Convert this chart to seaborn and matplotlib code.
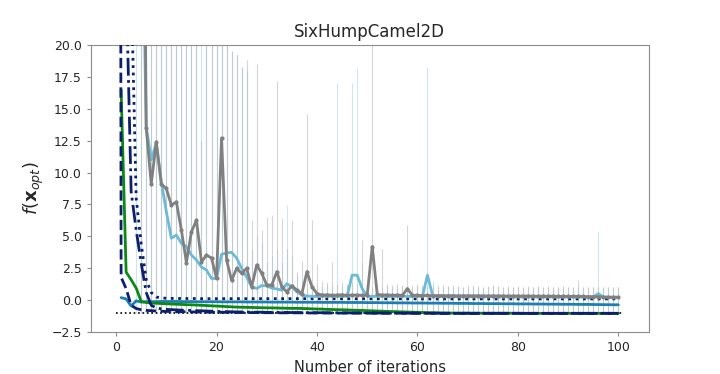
import numpy as np
import pandas as pd
import matplotlib
matplotlib.use("Agg")
import matplotlib.pyplot as plt
import seaborn as sns

nan = np.nan
iters = list(range(1, 101))
f_opt = -1.0316  # global minimum of six-hump camel

# mean curves (one value per iteration 1..100)
gray_mean = [nan, nan, nan, nan, 60.0, 13.5, 9.1, 12.4, 9.1, 8.75,
             7.45, 7.7, 5.5, 2.95, 5.35, 6.27, 3.0, 3.54, 3.3, 1.7,
             12.7, 3.15, 1.55, 2.5, 2.1, 2.5, 1.05, 2.76, 2.1, 1.18,
             1.2, 2.23, 1.05, 0.65, 1.13, 0.79, 0.52, 2.23, 1.05, 0.52,
             0.4, 0.42, 0.38, 0.4, 0.42, 0.38, 0.4, 0.4, 0.38, 0.4,
             4.2, 0.45, 0.4, 0.42, 0.38, 0.4, 0.38, 0.9, 0.38, 0.38,
             0.36, 0.37, 0.35, 0.36, 0.36, 0.35, 0.36, 0.34, 0.35, 0.35,
             0.34, 0.35, 0.34, 0.33, 0.34, 0.33, 0.34, 0.32, 0.33, 0.33,
             0.32, 0.33, 0.32, 0.31, 0.32, 0.31, 0.32, 0.3, 0.31, 0.3,
             0.3, 0.31, 0.29, 0.28, 0.28, 0.27, 0.24, 0.23, 0.23, 0.22]
gray_max = [nan, nan, nan, nan, 60.0, 45.0, 40.0, 38.0, 35.0, 30.0,
            28.0, 30.0, 25.0, 24.0, 26.0, 22.0, 12.5, 24.0, 21.0, 22.0,
            26.0, 21.0, 19.5, 19.2, 18.3, 18.8, 6.3, 18.5, 5.5, 6.5,
            6.7, 17.2, 6.4, 4.0, 6.3, 2.2, 3.1, 14.6, 6.3, 2.8,
            1.5, 1.4, 3.0, 1.3, 1.4, 1.3, 1.4, 1.3, 4.7, 1.3,
            20.5, 1.3, 4.0, 1.3, 1.2, 1.3, 1.2, 5.9, 1.2, 1.3,
            1.2, 1.1, 1.2, 1.1, 1.2, 1.1, 1.2, 1.1, 1.0, 1.1,
            1.2, 1.1, 1.0, 1.1, 1.2, 1.1, 1.0, 1.1, 1.0, 1.1,
            1.0, 1.1, 1.0, 1.1, 1.0, 1.1, 1.0, 1.0, 1.1, 1.0,
            1.0, 1.57, 1.0, 1.0, 1.0, 1.0, 1.0, 1.0, 1.0, 1.0]

blue_mean = [nan, nan, nan, 60.0, 35.0, 13.6, 11.0, 12.3, 9.3, 6.95,
             4.86, 5.1, 4.46, 4.2, 3.54, 3.15, 2.6, 2.36, 1.7, 1.7,
             3.6, 3.7, 3.75, 3.3, 2.5, 1.8, 1.05, 0.92, 1.15, 1.12,
             0.95, 0.88, 0.78, 1.3, 1.04, 0.65, 0.4, 0.33, 0.3, 0.3,
             0.32, 0.3, 0.31, 0.3, 0.3, 0.31, 1.96, 1.96, 0.9, 0.3,
             0.3, 0.3, 0.31, 0.29, 0.3, 0.3, 0.31, 0.3, 0.29, 0.3,
             0.3, 1.96, 0.4, 0.28, 0.28, 0.27, 0.28, 0.27, 0.27, 0.28,
             0.27, 0.27, 0.26, 0.27, 0.27, 0.26, 0.26, 0.27, 0.26, 0.26,
             0.25, 0.26, 0.26, 0.25, 0.25, 0.26, 0.25, 0.25, 0.24, 0.25,
             0.25, 0.24, 0.24, 0.25, 0.24, 0.52, 0.25, 0.24, 0.24, 0.23]
blue_max = [nan, nan, nan, 60.0, 50.0, 40.0, 35.0, 33.0, 30.0, 28.0,
            26.0, 25.0, 24.0, 23.0, 22.0, 22.0, 21.0, 21.0, 20.5, 20.5,
            21.0, 20.5, 19.5, 19.3, 18.3, 18.0, 4.0, 5.0, 4.5, 3.0,
            3.5, 4.0, 3.0, 7.45, 3.5, 2.0, 1.5, 1.3, 1.2, 1.3,
            1.1, 1.2, 1.1, 17.0, 1.1, 1.2, 17.0, 18.2, 3.0, 1.1,
            1.0, 1.1, 1.0, 1.1, 1.0, 1.0, 1.1, 1.0, 1.0, 1.1,
            1.0, 18.3, 1.5, 1.0, 1.0, 1.1, 1.0, 1.0, 1.0, 1.1,
            1.0, 1.0, 1.0, 1.0, 1.1, 1.0, 1.0, 1.0, 1.0, 1.0,
            1.0, 1.0, 1.0, 1.0, 1.0, 1.0, 1.0, 1.0, 1.0, 1.0,
            1.0, 1.0, 1.0, 1.0, 1.0, 5.35, 1.0, 1.0, 1.0, 1.0]

teal_mean = [0.2, 0.1, -0.45, -0.05, -0.15, -0.12, -0.12, -0.11, -0.1, -0.1,
             -0.1, -0.1, -0.11, -0.11, -0.11, -0.12, -0.12, -0.12, -0.12, -0.12,
             -0.13, -0.13, -0.13, -0.13, -0.13, -0.14, -0.14, -0.14, -0.14, -0.14,
             -0.15, -0.15, -0.15, -0.15, -0.15, -0.16, -0.16, -0.16, -0.16, -0.16,
             -0.17, -0.17, -0.17, -0.17, -0.17, -0.18, -0.18, -0.18, -0.18, -0.19,
             -0.19, -0.19, -0.2, -0.2, -0.2, -0.21, -0.21, -0.21, -0.22, -0.22,
             -0.22, -0.23, -0.23, -0.23, -0.24, -0.24, -0.24, -0.25, -0.25, -0.25,
             -0.26, -0.26, -0.26, -0.27, -0.27, -0.27, -0.28, -0.28, -0.28, -0.29,
             -0.29, -0.29, -0.3, -0.3, -0.3, -0.31, -0.31, -0.31, -0.32, -0.32,
             -0.32, -0.33, -0.33, -0.33, -0.34, -0.34, -0.35, -0.35, -0.36, -0.36]

green_mean = [16.5, 2.2, 1.6, 0.95, -0.1, -0.18, -0.22, -0.24, -0.26, -0.28,
              -0.3, -0.32, -0.33, -0.35, -0.36, -0.38, -0.4, -0.42, -0.44, -0.46,
              -0.48, -0.5, -0.52, -0.54, -0.55, -0.56, -0.57, -0.58, -0.59, -0.6,
              -0.6, -0.61, -0.62, -0.63, -0.64, -0.64, -0.65, -0.66, -0.68, -0.69,
              -0.7, -0.72, -0.73, -0.74, -0.75, -0.76, -0.78, -0.79, -0.8, -0.82,
              -0.83, -0.85, -0.86, -0.88, -0.89, -0.9, -0.92, -0.93, -0.94, -0.95,
              -0.96, -0.97, -0.98, -0.99, -1.0, -1.0, -1.01, -1.01, -1.01, -1.01,
              -1.02, -1.02, -1.02, -1.02, -1.02, -1.02, -1.02, -1.02, -1.02, -1.02,
              -1.03, -1.03, -1.03, -1.03, -1.03, -1.03, -1.03, -1.03, -1.03, -1.03,
              -1.03, -1.03, -1.03, -1.03, -1.03, -1.03, -1.03, -1.03, -1.03, -1.03]

# three navy runs (iteration 0 holds the initial design value)
navy_iters = list(range(0, 101))
navy_dash = [300.0, 1.8, 0.9, -0.4, -0.65, -0.75, -0.8, -0.82, -0.85, -0.87,
             -0.88, -0.89, -0.9, -0.9, -0.91, -0.92, -0.92, -0.93, -0.93, -0.94,
             -0.95, -0.95, -0.95, -0.96, -0.96, -0.96, -0.97, -0.97, -0.97, -0.98,
             -0.98, -0.98, -0.98, -0.99, -0.99, -0.99, -0.99, -0.99, -1.0, -1.0,
             -1.0, -1.0, -1.0, -1.0, -1.01, -1.01, -1.01, -1.01, -1.01, -1.01,
             -1.02, -1.02, -1.02, -1.02, -1.02, -1.02, -1.02, -1.02, -1.02, -1.02,
             -1.03, -1.03, -1.03, -1.03, -1.03, -1.03, -1.03, -1.03, -1.03, -1.03,
             -1.03, -1.03, -1.03, -1.03, -1.03, -1.03, -1.03, -1.03, -1.03, -1.03,
             -1.03, -1.03, -1.03, -1.03, -1.03, -1.03, -1.03, -1.03, -1.03, -1.03,
             -1.03, -1.03, -1.03, -1.03, -1.03, -1.03, -1.03, -1.03, -1.03, -1.03,
             -1.03]
navy_dashdot = [400.0, 200.0, 25.0, 8.5, 5.5, 2.9, 0.6, -0.4, -0.6, -0.68,
                -0.72, -0.74, -0.76, -0.78, -0.79, -0.8, -0.82, -0.83, -0.85, -0.86,
                -0.88, -0.89, -0.9, -0.91, -0.92, -0.92, -0.93, -0.93, -0.94, -0.94,
                -0.95, -0.95, -0.96, -0.96, -0.96, -0.97, -0.97, -0.97, -0.98, -0.98,
                -0.98, -0.98, -0.99, -0.99, -0.99, -0.99, -0.99, -1.0, -1.0, -1.0,
                -1.0, -1.0, -1.01, -1.01, -1.01, -1.01, -1.01, -1.02, -1.02, -1.02,
                -1.02, -1.02, -1.02, -1.02, -1.02, -1.03, -1.03, -1.03, -1.03, -1.03,
                -1.03, -1.03, -1.03, -1.03, -1.03, -1.03, -1.03, -1.03, -1.03, -1.03,
                -1.03, -1.03, -1.03, -1.03, -1.03, -1.03, -1.03, -1.03, -1.03, -1.03,
                -1.03, -1.03, -1.03, -1.03, -1.03, -1.03, -1.03, -1.03, -1.03, -1.03,
                -1.03]
navy_dot = [400.0, 150.0, 60.0, 25.0, 8.0, 4.4, 1.6, 0.6, 0.25, 0.18,
            0.15, 0.14, 0.14, 0.13, 0.13, 0.13, 0.13, 0.12, 0.12, 0.12,
            0.12, 0.12, 0.12, 0.12, 0.12, 0.12, 0.12, 0.12, 0.12, 0.12,
            0.12, 0.12, 0.12, 0.12, 0.12, 0.12, 0.12, 0.12, 0.12, 0.12,
            0.11, 0.11, 0.11, 0.11, 0.11, 0.11, 0.11, 0.11, 0.11, 0.11,
            0.11, 0.11, 0.11, 0.11, 0.11, 0.11, 0.11, 0.11, 0.11, 0.11,
            0.1, 0.1, 0.1, 0.1, 0.1, 0.1, 0.1, 0.1, 0.1, 0.1,
            0.1, 0.1, 0.1, 0.1, 0.1, 0.1, 0.1, 0.1, 0.1, 0.1,
            0.1, 0.1, 0.1, 0.1, 0.1, 0.1, 0.1, 0.1, 0.1, 0.1,
            0.1, 0.1, 0.1, 0.1, 0.1, 0.1, 0.1, 0.1, 0.1, 0.1,
            0.1]

sns.set_style("white", {"axes.edgecolor": "0.55", "xtick.bottom": True, "ytick.left": True,
                        "xtick.color": "0.55", "ytick.color": "0.55"})
plt.rcParams['font.family'] = ['DejaVu Sans']

fig = plt.figure(figsize=(7.2, 3.74), dpi=100)
ax = fig.add_axes([0.126, 0.112, 0.775, 0.768])

df_gray = pd.DataFrame({'it': iters, 'mean': gray_mean, 'max': gray_max}).dropna()
df_blue = pd.DataFrame({'it': iters, 'mean': blue_mean, 'max': blue_max}).dropna()

# spread bars: from the best run (the optimum) up to the worst run
ax.errorbar(df_blue['it'], df_blue['mean'],
            yerr=[df_blue['mean'] - f_opt, df_blue['max'] - df_blue['mean']],
            fmt='none', ecolor='#add8e6', elinewidth=0.8, alpha=0.6, zorder=1)
ax.errorbar(df_gray['it'], df_gray['mean'],
            yerr=[df_gray['mean'] - f_opt, df_gray['max'] - df_gray['mean']],
            fmt='none', ecolor='#b0b0b0', elinewidth=0.8, alpha=0.5, zorder=1)

ax.plot([0, 101], [f_opt, f_opt], color='black', linestyle=':', linewidth=1.2, zorder=2)

sns.lineplot(x=iters, y=teal_mean, color='#1b7fb3', linewidth=2, ax=ax, zorder=3)
sns.lineplot(x=iters, y=green_mean, color='#0a8a12', linewidth=2, ax=ax, zorder=3)
sns.lineplot(x=navy_iters, y=navy_dash, color='#0c1f6e', linewidth=2, linestyle='--', ax=ax, zorder=4)
sns.lineplot(x=navy_iters, y=navy_dashdot, color='#0c1f6e', linewidth=2, linestyle='-.', ax=ax, zorder=4)
sns.lineplot(x=navy_iters, y=navy_dot, color='#0c1f6e', linewidth=2, linestyle=':', ax=ax, zorder=4)
sns.lineplot(data=df_blue, x='it', y='mean', color='#6cb9d8', linewidth=2, ax=ax, zorder=5)
sns.lineplot(data=df_gray, x='it', y='mean', color='#808080', linewidth=2,
             marker='o', markersize=3, markeredgewidth=0, ax=ax, zorder=6)

ax.set_xlim(-5.05, 106.05)
ax.set_ylim(-2.5, 20)
ax.set_yticks(np.arange(-2.5, 20.1, 2.5))
ax.set_xticks([0, 20, 40, 60, 80, 100])
ax.tick_params(labelsize=9, labelcolor='0.15', length=3)
ax.set_title('SixHumpCamel2D', fontsize=12)
ax.set_xlabel('Number of iterations', fontsize=10.5)
ax.set_ylabel(r'$f(\mathbf{x}_{opt})$', fontsize=13)

fig.savefig('out.png', dpi=100)
